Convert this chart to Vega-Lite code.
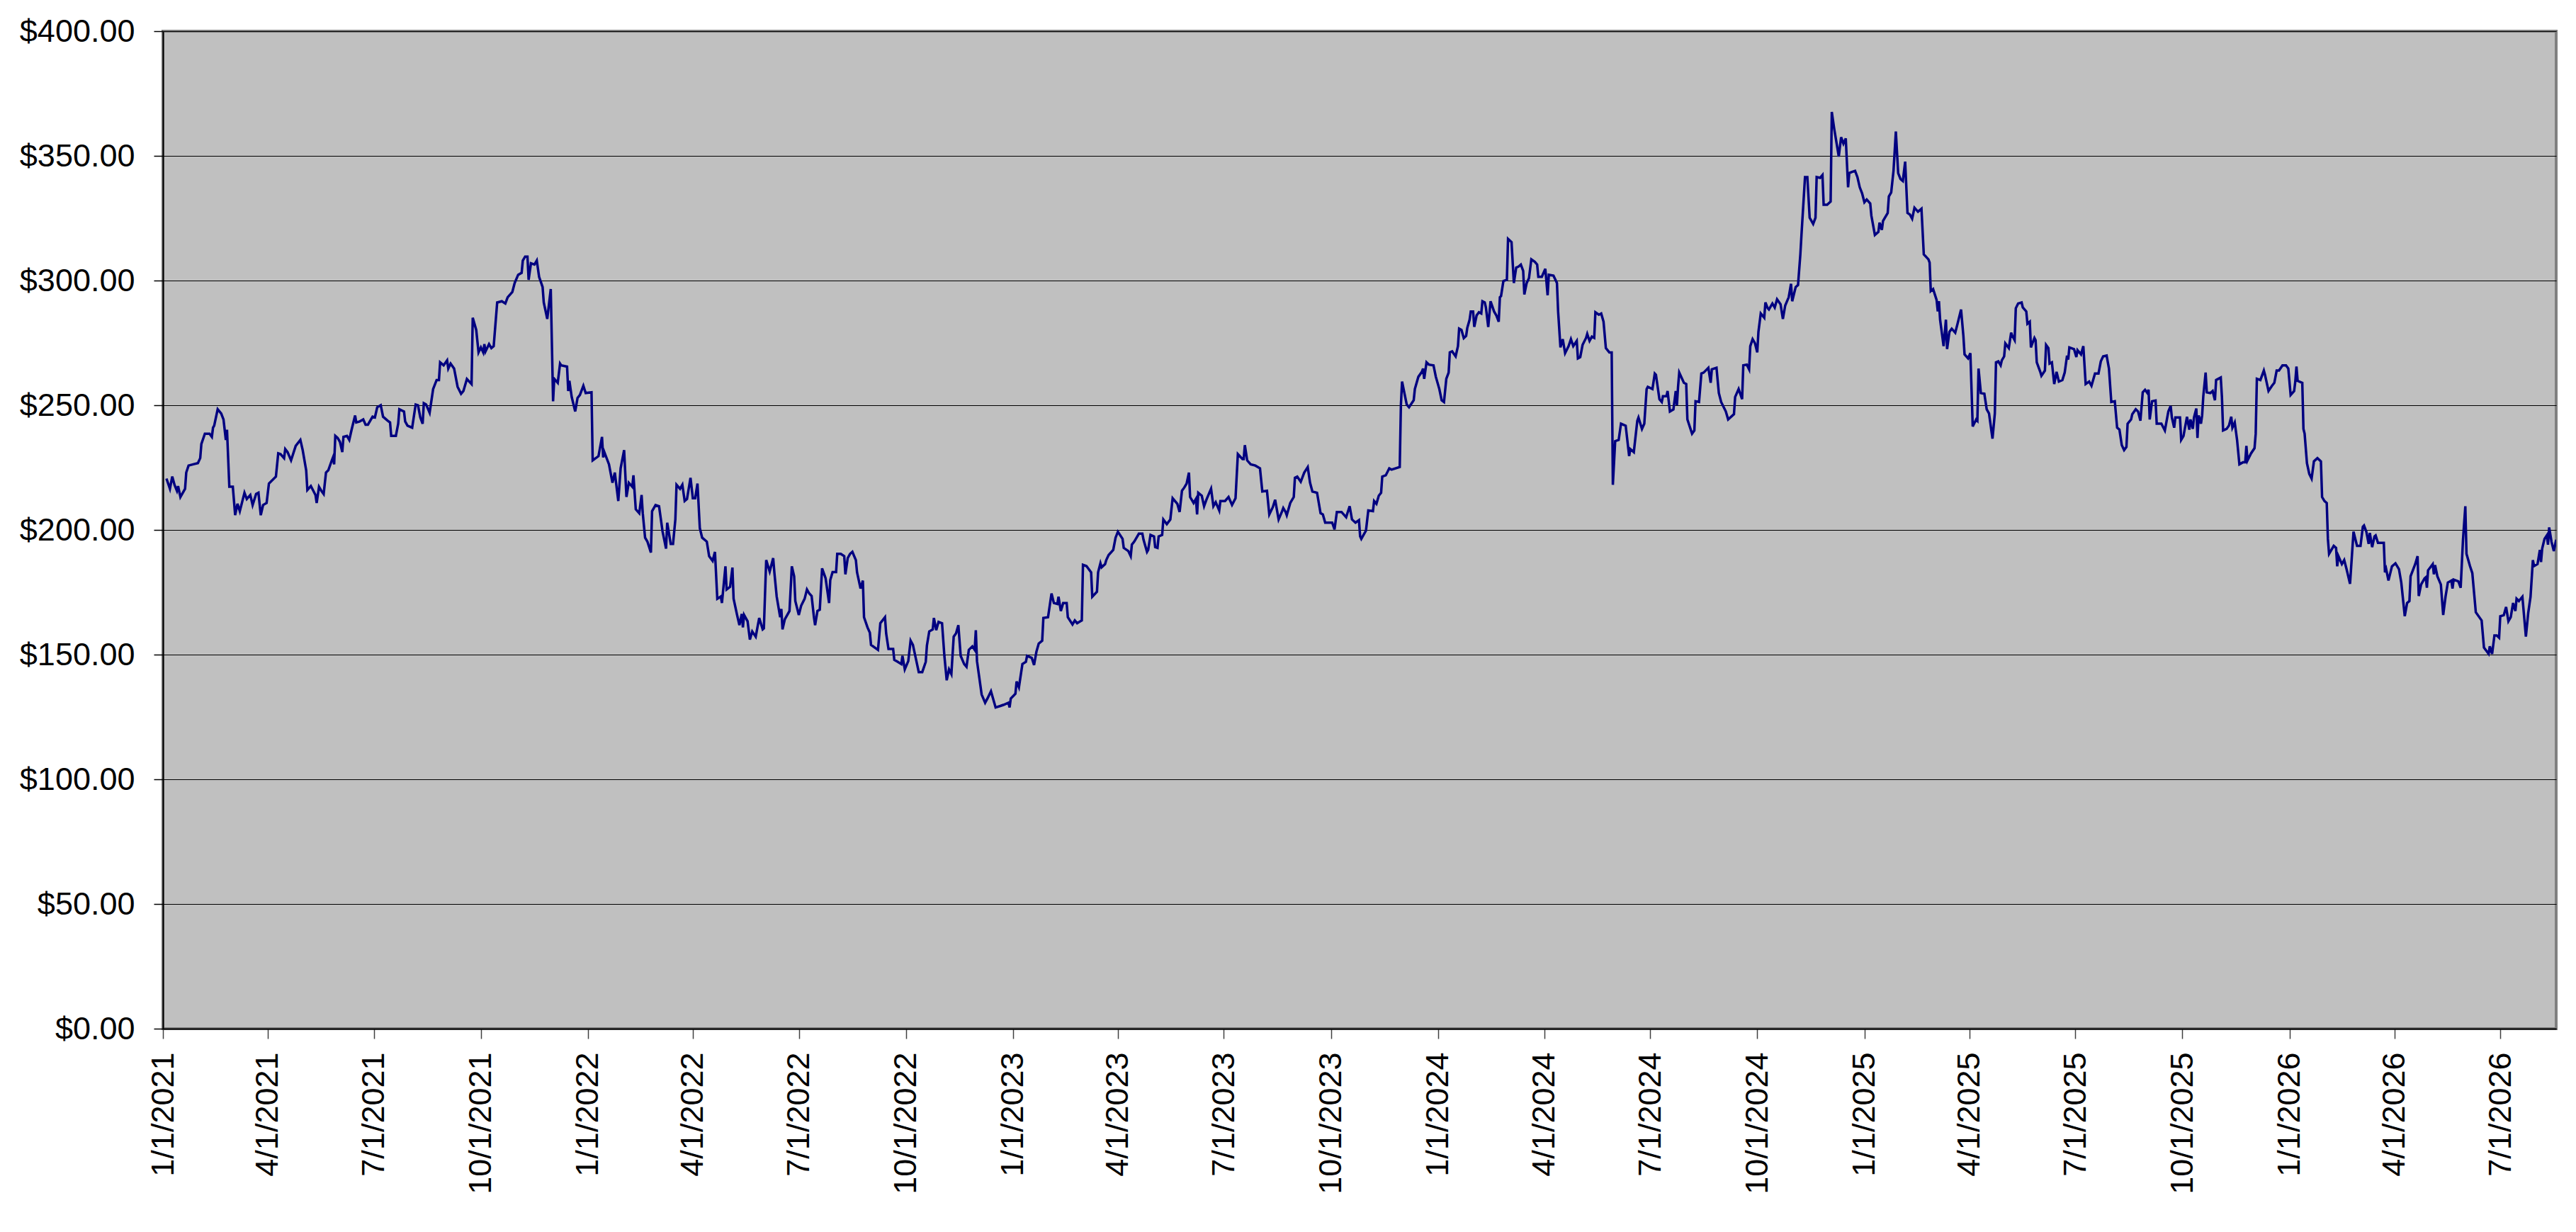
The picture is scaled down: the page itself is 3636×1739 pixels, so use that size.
{
  "$schema": "https://vega.github.io/schema/vega-lite/v6.json",
  "width": 3378,
  "height": 1408,
  "autosize": {"type": "none"},
  "padding": {"left": 230, "top": 44, "right": 28, "bottom": 287},
  "background": "white",
  "config": {
    "view": {"fill": "#C0C0C0", "stroke": "#808080", "strokeWidth": 4},
    "axis": {"labelFont": "Liberation Sans", "labelFontSize": 45, "labelColor": "#000000", "labelLimit": 0}
  },
  "data": {
    "values": [
      {"date": "2021-01-04", "price": 220.6}, {"date": "2021-01-07", "price": 216.5}, {"date": "2021-01-09", "price": 221.4},
      {"date": "2021-01-11", "price": 218}, {"date": "2021-01-13", "price": 215.7}, {"date": "2021-01-14", "price": 217.6},
      {"date": "2021-01-16", "price": 213.2}, {"date": "2021-01-20", "price": 216.5}, {"date": "2021-01-21", "price": 223},
      {"date": "2021-01-23", "price": 225.8}, {"date": "2021-01-27", "price": 226.3}, {"date": "2021-01-31", "price": 226.8},
      {"date": "2021-02-02", "price": 228.8}, {"date": "2021-02-03", "price": 234.5}, {"date": "2021-02-06", "price": 238.6},
      {"date": "2021-02-10", "price": 238.6}, {"date": "2021-02-12", "price": 237.3}, {"date": "2021-02-13", "price": 241},
      {"date": "2021-02-14", "price": 241.8}, {"date": "2021-02-17", "price": 248.4}, {"date": "2021-02-20", "price": 246.7},
      {"date": "2021-02-22", "price": 244.3}, {"date": "2021-02-24", "price": 236.1}, {"date": "2021-02-25", "price": 240.2},
      {"date": "2021-02-27", "price": 217.3}, {"date": "2021-03-02", "price": 217.3}, {"date": "2021-03-04", "price": 205.9},
      {"date": "2021-03-06", "price": 210.5}, {"date": "2021-03-08", "price": 207.5}, {"date": "2021-03-12", "price": 214.9},
      {"date": "2021-03-14", "price": 212.4}, {"date": "2021-03-17", "price": 214}, {"date": "2021-03-19", "price": 210},
      {"date": "2021-03-22", "price": 214.4}, {"date": "2021-03-24", "price": 214.9}, {"date": "2021-03-26", "price": 205.9},
      {"date": "2021-03-28", "price": 210}, {"date": "2021-03-31", "price": 210.8}, {"date": "2021-04-02", "price": 218.6},
      {"date": "2021-04-08", "price": 221.4}, {"date": "2021-04-10", "price": 230.7}, {"date": "2021-04-12", "price": 230.4},
      {"date": "2021-04-15", "price": 228.8}, {"date": "2021-04-16", "price": 232.4}, {"date": "2021-04-18", "price": 231.2},
      {"date": "2021-04-21", "price": 227.9}, {"date": "2021-04-25", "price": 233.7}, {"date": "2021-04-29", "price": 236.1},
      {"date": "2021-05-01", "price": 232}, {"date": "2021-05-04", "price": 223.9}, {"date": "2021-05-05", "price": 216},
      {"date": "2021-05-08", "price": 217.6}, {"date": "2021-05-12", "price": 214}, {"date": "2021-05-13", "price": 210.8},
      {"date": "2021-05-15", "price": 217.3}, {"date": "2021-05-17", "price": 215.7}, {"date": "2021-05-19", "price": 214.4},
      {"date": "2021-05-21", "price": 223}, {"date": "2021-05-23", "price": 223.9}, {"date": "2021-05-26", "price": 227.9},
      {"date": "2021-05-27", "price": 229.1}, {"date": "2021-05-28", "price": 226.3}, {"date": "2021-05-29", "price": 237.7},
      {"date": "2021-05-31", "price": 236.9}, {"date": "2021-06-02", "price": 235.3}, {"date": "2021-06-04", "price": 231.2},
      {"date": "2021-06-05", "price": 237.3}, {"date": "2021-06-08", "price": 237.7}, {"date": "2021-06-10", "price": 236.1},
      {"date": "2021-06-12", "price": 240.2}, {"date": "2021-06-15", "price": 245.9}, {"date": "2021-06-16", "price": 243.1},
      {"date": "2021-06-19", "price": 243.5}, {"date": "2021-06-22", "price": 244.3}, {"date": "2021-06-24", "price": 242.2},
      {"date": "2021-06-26", "price": 242.2}, {"date": "2021-06-30", "price": 245.4}, {"date": "2021-07-02", "price": 245.1},
      {"date": "2021-07-04", "price": 249.2}, {"date": "2021-07-07", "price": 250}, {"date": "2021-07-09", "price": 245.4},
      {"date": "2021-07-13", "price": 243.8}, {"date": "2021-07-15", "price": 243.1}, {"date": "2021-07-16", "price": 237.7},
      {"date": "2021-07-20", "price": 237.7}, {"date": "2021-07-22", "price": 242.6}, {"date": "2021-07-23", "price": 248.4},
      {"date": "2021-07-27", "price": 247.5}, {"date": "2021-07-28", "price": 243.5}, {"date": "2021-07-30", "price": 241.8},
      {"date": "2021-08-03", "price": 241}, {"date": "2021-08-06", "price": 250.3}, {"date": "2021-08-08", "price": 250},
      {"date": "2021-08-10", "price": 245.1}, {"date": "2021-08-12", "price": 242.6}, {"date": "2021-08-13", "price": 250.8},
      {"date": "2021-08-15", "price": 250.3}, {"date": "2021-08-18", "price": 247}, {"date": "2021-08-21", "price": 256.5},
      {"date": "2021-08-24", "price": 260.1}, {"date": "2021-08-26", "price": 260.1}, {"date": "2021-08-27", "price": 267.2},
      {"date": "2021-08-30", "price": 266}, {"date": "2021-09-02", "price": 268}, {"date": "2021-09-03", "price": 264.7},
      {"date": "2021-09-05", "price": 266.7}, {"date": "2021-09-08", "price": 264.7}, {"date": "2021-09-11", "price": 257.4},
      {"date": "2021-09-14", "price": 254.6}, {"date": "2021-09-16", "price": 255.7}, {"date": "2021-09-19", "price": 260.5},
      {"date": "2021-09-23", "price": 258.5}, {"date": "2021-09-24", "price": 285.1}, {"date": "2021-09-27", "price": 280.2},
      {"date": "2021-09-29", "price": 271.2}, {"date": "2021-10-01", "price": 273.2}, {"date": "2021-10-03", "price": 271.2},
      {"date": "2021-10-04", "price": 274.5}, {"date": "2021-10-05", "price": 271.6}, {"date": "2021-10-08", "price": 274.5},
      {"date": "2021-10-10", "price": 272.9}, {"date": "2021-10-12", "price": 273.7}, {"date": "2021-10-15", "price": 291.2},
      {"date": "2021-10-19", "price": 291.7}, {"date": "2021-10-22", "price": 290.8}, {"date": "2021-10-24", "price": 293.3},
      {"date": "2021-10-28", "price": 295.4}, {"date": "2021-10-30", "price": 299}, {"date": "2021-11-02", "price": 302.3},
      {"date": "2021-11-05", "price": 303.1}, {"date": "2021-11-06", "price": 308}, {"date": "2021-11-08", "price": 309.6},
      {"date": "2021-11-10", "price": 309.6}, {"date": "2021-11-11", "price": 300.3}, {"date": "2021-11-13", "price": 306.9},
      {"date": "2021-11-16", "price": 306.4}, {"date": "2021-11-18", "price": 308}, {"date": "2021-11-20", "price": 301.5},
      {"date": "2021-11-23", "price": 297.4}, {"date": "2021-11-24", "price": 291.2}, {"date": "2021-11-27", "price": 284.6},
      {"date": "2021-11-30", "price": 296.6}, {"date": "2021-12-02", "price": 251.6}, {"date": "2021-12-03", "price": 260.6},
      {"date": "2021-12-06", "price": 259}, {"date": "2021-12-08", "price": 266.7}, {"date": "2021-12-09", "price": 266},
      {"date": "2021-12-14", "price": 265.5}, {"date": "2021-12-15", "price": 255.7}, {"date": "2021-12-16", "price": 259.8},
      {"date": "2021-12-18", "price": 253.3}, {"date": "2021-12-21", "price": 247.5}, {"date": "2021-12-23", "price": 252.9},
      {"date": "2021-12-25", "price": 254.1}, {"date": "2021-12-28", "price": 257.8}, {"date": "2021-12-30", "price": 254.9},
      {"date": "2022-01-04", "price": 255.2}, {"date": "2022-01-05", "price": 227.9}, {"date": "2022-01-10", "price": 229.6},
      {"date": "2022-01-13", "price": 237.3}, {"date": "2022-01-14", "price": 229.1}, {"date": "2022-01-15", "price": 231.2},
      {"date": "2022-01-19", "price": 226.3}, {"date": "2022-01-22", "price": 218.9}, {"date": "2022-01-24", "price": 223},
      {"date": "2022-01-27", "price": 211.6}, {"date": "2022-01-29", "price": 224.7}, {"date": "2022-02-01", "price": 232},
      {"date": "2022-02-03", "price": 213.2}, {"date": "2022-02-05", "price": 218.9}, {"date": "2022-02-08", "price": 217.3},
      {"date": "2022-02-09", "price": 221.9}, {"date": "2022-02-11", "price": 208.3}, {"date": "2022-02-14", "price": 206.7},
      {"date": "2022-02-16", "price": 214}, {"date": "2022-02-17", "price": 206.7}, {"date": "2022-02-19", "price": 196.9},
      {"date": "2022-02-21", "price": 195.3}, {"date": "2022-02-24", "price": 190.9}, {"date": "2022-02-25", "price": 207.5},
      {"date": "2022-02-28", "price": 210}, {"date": "2022-03-03", "price": 209.5}, {"date": "2022-03-06", "price": 199.4},
      {"date": "2022-03-09", "price": 192.5}, {"date": "2022-03-10", "price": 202.9}, {"date": "2022-03-13", "price": 194.4},
      {"date": "2022-03-15", "price": 194.4}, {"date": "2022-03-17", "price": 204.2}, {"date": "2022-03-18", "price": 218.1},
      {"date": "2022-03-21", "price": 216.5}, {"date": "2022-03-23", "price": 218.1}, {"date": "2022-03-25", "price": 211.6},
      {"date": "2022-03-27", "price": 212.4}, {"date": "2022-03-30", "price": 220.9}, {"date": "2022-04-01", "price": 212.7},
      {"date": "2022-04-03", "price": 212.7}, {"date": "2022-04-05", "price": 218.6}, {"date": "2022-04-07", "price": 200.7},
      {"date": "2022-04-09", "price": 196.9}, {"date": "2022-04-13", "price": 195.3}, {"date": "2022-04-15", "price": 189.5},
      {"date": "2022-04-18", "price": 187.6}, {"date": "2022-04-20", "price": 191.2}, {"date": "2022-04-22", "price": 172.4},
      {"date": "2022-04-25", "price": 173.3}, {"date": "2022-04-26", "price": 170.7}, {"date": "2022-04-29", "price": 185.4},
      {"date": "2022-04-30", "price": 176.1}, {"date": "2022-05-03", "price": 177.2}, {"date": "2022-05-05", "price": 184.9},
      {"date": "2022-05-06", "price": 172.4}, {"date": "2022-05-09", "price": 165.9}, {"date": "2022-05-11", "price": 161.8},
      {"date": "2022-05-13", "price": 166.3}, {"date": "2022-05-14", "price": 160.9}, {"date": "2022-05-15", "price": 165.9},
      {"date": "2022-05-18", "price": 163.4}, {"date": "2022-05-20", "price": 156}, {"date": "2022-05-22", "price": 159.3},
      {"date": "2022-05-25", "price": 157.2}, {"date": "2022-05-28", "price": 164.7}, {"date": "2022-05-31", "price": 160.1},
      {"date": "2022-06-01", "price": 160.5}, {"date": "2022-06-03", "price": 187.9}, {"date": "2022-06-06", "price": 183.3},
      {"date": "2022-06-09", "price": 188.7}, {"date": "2022-06-10", "price": 183}, {"date": "2022-06-12", "price": 173.3},
      {"date": "2022-06-15", "price": 165}, {"date": "2022-06-16", "price": 168.3}, {"date": "2022-06-17", "price": 160.1},
      {"date": "2022-06-19", "price": 164.2}, {"date": "2022-06-23", "price": 167.5}, {"date": "2022-06-25", "price": 185.4},
      {"date": "2022-06-27", "price": 181.4}, {"date": "2022-06-28", "price": 171.5}, {"date": "2022-07-01", "price": 165.9},
      {"date": "2022-07-03", "price": 169.6}, {"date": "2022-07-06", "price": 172.4}, {"date": "2022-07-08", "price": 176.1},
      {"date": "2022-07-10", "price": 174.5}, {"date": "2022-07-12", "price": 173.5}, {"date": "2022-07-14", "price": 165},
      {"date": "2022-07-15", "price": 161.8}, {"date": "2022-07-17", "price": 167.5}, {"date": "2022-07-19", "price": 168},
      {"date": "2022-07-21", "price": 184.6}, {"date": "2022-07-24", "price": 180.6}, {"date": "2022-07-27", "price": 170.7},
      {"date": "2022-07-28", "price": 179.9}, {"date": "2022-07-30", "price": 183.1}, {"date": "2022-08-02", "price": 183.1},
      {"date": "2022-08-03", "price": 190.4}, {"date": "2022-08-06", "price": 190.4}, {"date": "2022-08-09", "price": 189.5},
      {"date": "2022-08-10", "price": 182.2}, {"date": "2022-08-12", "price": 188.7}, {"date": "2022-08-14", "price": 190.4},
      {"date": "2022-08-16", "price": 191.2}, {"date": "2022-08-19", "price": 187.9}, {"date": "2022-08-20", "price": 183},
      {"date": "2022-08-23", "price": 176.5}, {"date": "2022-08-25", "price": 179.7}, {"date": "2022-08-26", "price": 165},
      {"date": "2022-08-29", "price": 160.9}, {"date": "2022-08-31", "price": 158.8}, {"date": "2022-09-01", "price": 153.9},
      {"date": "2022-09-07", "price": 151.9}, {"date": "2022-09-09", "price": 162.6}, {"date": "2022-09-13", "price": 165},
      {"date": "2022-09-14", "price": 158.5}, {"date": "2022-09-16", "price": 152.3}, {"date": "2022-09-20", "price": 152.3},
      {"date": "2022-09-21", "price": 147.9}, {"date": "2022-09-24", "price": 147.1}, {"date": "2022-09-27", "price": 146.2},
      {"date": "2022-09-28", "price": 149.5}, {"date": "2022-09-30", "price": 144.1}, {"date": "2022-10-03", "price": 147.4},
      {"date": "2022-10-05", "price": 155.6}, {"date": "2022-10-07", "price": 153.9}, {"date": "2022-10-09", "price": 149.5},
      {"date": "2022-10-12", "price": 143}, {"date": "2022-10-15", "price": 143}, {"date": "2022-10-18", "price": 147.1},
      {"date": "2022-10-19", "price": 153.6}, {"date": "2022-10-21", "price": 159.3}, {"date": "2022-10-24", "price": 160.1},
      {"date": "2022-10-25", "price": 164.7}, {"date": "2022-10-27", "price": 159.8}, {"date": "2022-10-29", "price": 163.1},
      {"date": "2022-11-01", "price": 162.6}, {"date": "2022-11-03", "price": 149.5}, {"date": "2022-11-05", "price": 139.7},
      {"date": "2022-11-07", "price": 144.1}, {"date": "2022-11-09", "price": 142.2}, {"date": "2022-11-11", "price": 157.2},
      {"date": "2022-11-13", "price": 158.5}, {"date": "2022-11-15", "price": 161.8}, {"date": "2022-11-17", "price": 149.5},
      {"date": "2022-11-20", "price": 146.2}, {"date": "2022-11-22", "price": 145.1}, {"date": "2022-11-24", "price": 151.9},
      {"date": "2022-11-27", "price": 153.3}, {"date": "2022-11-29", "price": 151.9}, {"date": "2022-11-30", "price": 159.8},
      {"date": "2022-12-01", "price": 147.4}, {"date": "2022-12-05", "price": 134}, {"date": "2022-12-08", "price": 130.7},
      {"date": "2022-12-10", "price": 132.4}, {"date": "2022-12-13", "price": 135.3}, {"date": "2022-12-17", "price": 128.8},
      {"date": "2022-12-21", "price": 129.4}, {"date": "2022-12-24", "price": 129.9}, {"date": "2022-12-28", "price": 130.7},
      {"date": "2022-12-29", "price": 128.8}, {"date": "2022-12-30", "price": 132.4}, {"date": "2023-01-03", "price": 134.3},
      {"date": "2023-01-04", "price": 139.2}, {"date": "2023-01-06", "price": 136.9}, {"date": "2023-01-09", "price": 146.2},
      {"date": "2023-01-12", "price": 147.1}, {"date": "2023-01-13", "price": 149.5}, {"date": "2023-01-17", "price": 148.7},
      {"date": "2023-01-19", "price": 145.8}, {"date": "2023-01-21", "price": 151.1}, {"date": "2023-01-23", "price": 154.4},
      {"date": "2023-01-26", "price": 155.6}, {"date": "2023-01-27", "price": 164.7}, {"date": "2023-01-31", "price": 165},
      {"date": "2023-02-03", "price": 174.5}, {"date": "2023-02-05", "price": 170.7}, {"date": "2023-02-08", "price": 170.3},
      {"date": "2023-02-09", "price": 173.2}, {"date": "2023-02-11", "price": 167.5}, {"date": "2023-02-13", "price": 170.7},
      {"date": "2023-02-16", "price": 170.7}, {"date": "2023-02-17", "price": 165}, {"date": "2023-02-21", "price": 162.1},
      {"date": "2023-02-23", "price": 163.7}, {"date": "2023-02-25", "price": 162.6}, {"date": "2023-03-01", "price": 163.7},
      {"date": "2023-03-02", "price": 186}, {"date": "2023-03-05", "price": 185.5}, {"date": "2023-03-09", "price": 183},
      {"date": "2023-03-10", "price": 173.2}, {"date": "2023-03-14", "price": 175.2}, {"date": "2023-03-15", "price": 183},
      {"date": "2023-03-17", "price": 186.6}, {"date": "2023-03-18", "price": 185}, {"date": "2023-03-21", "price": 186.3},
      {"date": "2023-03-22", "price": 187.9}, {"date": "2023-03-24", "price": 189.9}, {"date": "2023-03-28", "price": 192},
      {"date": "2023-03-30", "price": 196.9}, {"date": "2023-04-01", "price": 199.3}, {"date": "2023-04-05", "price": 196.4},
      {"date": "2023-04-06", "price": 192.8}, {"date": "2023-04-10", "price": 191.5}, {"date": "2023-04-12", "price": 189.5},
      {"date": "2023-04-13", "price": 194.1}, {"date": "2023-04-15", "price": 195.3}, {"date": "2023-04-19", "price": 198.5},
      {"date": "2023-04-22", "price": 198.5}, {"date": "2023-04-23", "price": 196.1}, {"date": "2023-04-26", "price": 191.2},
      {"date": "2023-04-27", "price": 192}, {"date": "2023-04-29", "price": 198}, {"date": "2023-05-02", "price": 197.4},
      {"date": "2023-05-03", "price": 193.1}, {"date": "2023-05-05", "price": 192.8}, {"date": "2023-05-06", "price": 197.4},
      {"date": "2023-05-09", "price": 198}, {"date": "2023-05-10", "price": 204.2}, {"date": "2023-05-13", "price": 202.3},
      {"date": "2023-05-16", "price": 204.2}, {"date": "2023-05-18", "price": 212.7}, {"date": "2023-05-22", "price": 210.5},
      {"date": "2023-05-24", "price": 207.2}, {"date": "2023-05-26", "price": 215.7}, {"date": "2023-05-28", "price": 217},
      {"date": "2023-05-30", "price": 218.6}, {"date": "2023-06-01", "price": 223}, {"date": "2023-06-02", "price": 213.2},
      {"date": "2023-06-05", "price": 210.8}, {"date": "2023-06-07", "price": 212.4}, {"date": "2023-06-08", "price": 206.2},
      {"date": "2023-06-09", "price": 214.9}, {"date": "2023-06-12", "price": 213.7}, {"date": "2023-06-14", "price": 209.5},
      {"date": "2023-06-16", "price": 212.1}, {"date": "2023-06-20", "price": 216.5}, {"date": "2023-06-22", "price": 209.5},
      {"date": "2023-06-24", "price": 211.1}, {"date": "2023-06-27", "price": 207.8}, {"date": "2023-06-28", "price": 211.6},
      {"date": "2023-07-02", "price": 211.6}, {"date": "2023-07-05", "price": 213.2}, {"date": "2023-07-08", "price": 210},
      {"date": "2023-07-11", "price": 212.7}, {"date": "2023-07-13", "price": 230.4}, {"date": "2023-07-17", "price": 228.4},
      {"date": "2023-07-18", "price": 228.4}, {"date": "2023-07-19", "price": 234}, {"date": "2023-07-21", "price": 227.9},
      {"date": "2023-07-24", "price": 226.3}, {"date": "2023-07-28", "price": 225.8}, {"date": "2023-08-01", "price": 224.7},
      {"date": "2023-08-03", "price": 215.4}, {"date": "2023-08-07", "price": 215.7}, {"date": "2023-08-09", "price": 206.2},
      {"date": "2023-08-12", "price": 209.1}, {"date": "2023-08-14", "price": 212.1}, {"date": "2023-08-17", "price": 204.2},
      {"date": "2023-08-20", "price": 207.5}, {"date": "2023-08-21", "price": 208.8}, {"date": "2023-08-23", "price": 207.2},
      {"date": "2023-08-24", "price": 205.9}, {"date": "2023-08-27", "price": 210.8}, {"date": "2023-08-30", "price": 213.2},
      {"date": "2023-08-31", "price": 220.9}, {"date": "2023-09-02", "price": 221.4}, {"date": "2023-09-05", "price": 219.3},
      {"date": "2023-09-08", "price": 223}, {"date": "2023-09-11", "price": 225.2}, {"date": "2023-09-13", "price": 218.9},
      {"date": "2023-09-15", "price": 215.4}, {"date": "2023-09-19", "price": 214.9}, {"date": "2023-09-22", "price": 206.7},
      {"date": "2023-09-24", "price": 206.2}, {"date": "2023-09-26", "price": 202.9}, {"date": "2023-10-02", "price": 202.9},
      {"date": "2023-10-04", "price": 200.2}, {"date": "2023-10-06", "price": 207.2}, {"date": "2023-10-10", "price": 207.2},
      {"date": "2023-10-14", "price": 205.1}, {"date": "2023-10-17", "price": 209.5}, {"date": "2023-10-19", "price": 204.2},
      {"date": "2023-10-22", "price": 202.9}, {"date": "2023-10-25", "price": 203.9}, {"date": "2023-10-26", "price": 197.4},
      {"date": "2023-10-27", "price": 196.4}, {"date": "2023-10-31", "price": 199.7}, {"date": "2023-11-02", "price": 207.8},
      {"date": "2023-11-06", "price": 207.5}, {"date": "2023-11-07", "price": 211.6}, {"date": "2023-11-09", "price": 210.5},
      {"date": "2023-11-11", "price": 213.7}, {"date": "2023-11-13", "price": 214.9}, {"date": "2023-11-14", "price": 221.4},
      {"date": "2023-11-17", "price": 221.9}, {"date": "2023-11-20", "price": 224.7}, {"date": "2023-11-22", "price": 224.2},
      {"date": "2023-11-29", "price": 225.2}, {"date": "2023-11-30", "price": 250}, {"date": "2023-12-01", "price": 259.5},
      {"date": "2023-12-05", "price": 250.3}, {"date": "2023-12-07", "price": 249.2}, {"date": "2023-12-11", "price": 252},
      {"date": "2023-12-12", "price": 256.5}, {"date": "2023-12-14", "price": 259.8}, {"date": "2023-12-15", "price": 261.4},
      {"date": "2023-12-18", "price": 263.4}, {"date": "2023-12-19", "price": 264.7}, {"date": "2023-12-20", "price": 260.6},
      {"date": "2023-12-22", "price": 267.2}, {"date": "2023-12-24", "price": 266.3}, {"date": "2023-12-28", "price": 266},
      {"date": "2023-12-30", "price": 261.4}, {"date": "2024-01-02", "price": 256.5}, {"date": "2024-01-04", "price": 252},
      {"date": "2024-01-06", "price": 251.3}, {"date": "2024-01-08", "price": 260.6}, {"date": "2024-01-10", "price": 263.1},
      {"date": "2024-01-11", "price": 271.2}, {"date": "2024-01-13", "price": 271.6}, {"date": "2024-01-16", "price": 269.6},
      {"date": "2024-01-18", "price": 273.7}, {"date": "2024-01-19", "price": 280.7}, {"date": "2024-01-21", "price": 280.2},
      {"date": "2024-01-23", "price": 276.9}, {"date": "2024-01-25", "price": 277.8}, {"date": "2024-01-26", "price": 281},
      {"date": "2024-01-28", "price": 284.3}, {"date": "2024-01-29", "price": 287.6}, {"date": "2024-01-31", "price": 287.6},
      {"date": "2024-02-01", "price": 281.4}, {"date": "2024-02-03", "price": 286}, {"date": "2024-02-05", "price": 287.3},
      {"date": "2024-02-07", "price": 286.8}, {"date": "2024-02-08", "price": 291.7}, {"date": "2024-02-10", "price": 291.2},
      {"date": "2024-02-11", "price": 289.2}, {"date": "2024-02-13", "price": 281.4}, {"date": "2024-02-15", "price": 291.7},
      {"date": "2024-02-18", "price": 287.6}, {"date": "2024-02-20", "price": 286}, {"date": "2024-02-22", "price": 283.5},
      {"date": "2024-02-23", "price": 293.3}, {"date": "2024-02-24", "price": 293.8}, {"date": "2024-02-26", "price": 299.8},
      {"date": "2024-02-29", "price": 300.3}, {"date": "2024-03-01", "price": 316.7}, {"date": "2024-03-04", "price": 315.4},
      {"date": "2024-03-06", "price": 299}, {"date": "2024-03-08", "price": 305.2}, {"date": "2024-03-10", "price": 305.6},
      {"date": "2024-03-12", "price": 306.4}, {"date": "2024-03-14", "price": 303.9}, {"date": "2024-03-15", "price": 294.4},
      {"date": "2024-03-17", "price": 299}, {"date": "2024-03-19", "price": 301}, {"date": "2024-03-21", "price": 308.5},
      {"date": "2024-03-24", "price": 307.5}, {"date": "2024-03-26", "price": 306.4}, {"date": "2024-03-27", "price": 301.5},
      {"date": "2024-03-30", "price": 301.5}, {"date": "2024-04-02", "price": 304.7}, {"date": "2024-04-04", "price": 294.1},
      {"date": "2024-04-05", "price": 302.3}, {"date": "2024-04-09", "price": 302}, {"date": "2024-04-12", "price": 299},
      {"date": "2024-04-13", "price": 287.6}, {"date": "2024-04-15", "price": 273.2}, {"date": "2024-04-17", "price": 276.5},
      {"date": "2024-04-19", "price": 270.9}, {"date": "2024-04-22", "price": 273.7}, {"date": "2024-04-24", "price": 276.5},
      {"date": "2024-04-26", "price": 273.7}, {"date": "2024-04-29", "price": 275.8}, {"date": "2024-04-30", "price": 268.8},
      {"date": "2024-05-02", "price": 269.3}, {"date": "2024-05-04", "price": 274.2}, {"date": "2024-05-07", "price": 277},
      {"date": "2024-05-08", "price": 278.6}, {"date": "2024-05-10", "price": 275.8}, {"date": "2024-05-12", "price": 277.5},
      {"date": "2024-05-14", "price": 277}, {"date": "2024-05-15", "price": 287.3}, {"date": "2024-05-18", "price": 286.3},
      {"date": "2024-05-20", "price": 286.8}, {"date": "2024-05-22", "price": 283.5}, {"date": "2024-05-24", "price": 272.9},
      {"date": "2024-05-27", "price": 271.2}, {"date": "2024-05-29", "price": 271.2}, {"date": "2024-05-30", "price": 218.1},
      {"date": "2024-06-01", "price": 235.6}, {"date": "2024-06-04", "price": 236.1}, {"date": "2024-06-06", "price": 242.6},
      {"date": "2024-06-10", "price": 241.8}, {"date": "2024-06-13", "price": 229.6}, {"date": "2024-06-14", "price": 232.4},
      {"date": "2024-06-17", "price": 231.2}, {"date": "2024-06-20", "price": 243.8}, {"date": "2024-06-21", "price": 245.1},
      {"date": "2024-06-24", "price": 240.5}, {"date": "2024-06-26", "price": 242.6}, {"date": "2024-06-28", "price": 256.5},
      {"date": "2024-06-29", "price": 257.4}, {"date": "2024-07-03", "price": 256.5}, {"date": "2024-07-05", "price": 262.7},
      {"date": "2024-07-06", "price": 262.2}, {"date": "2024-07-09", "price": 252.4}, {"date": "2024-07-11", "price": 251.3},
      {"date": "2024-07-12", "price": 253.6}, {"date": "2024-07-15", "price": 253.6}, {"date": "2024-07-16", "price": 255.7},
      {"date": "2024-07-18", "price": 247.5}, {"date": "2024-07-21", "price": 248.3}, {"date": "2024-07-23", "price": 255.7},
      {"date": "2024-07-24", "price": 250}, {"date": "2024-07-25", "price": 257.4}, {"date": "2024-07-26", "price": 263.1},
      {"date": "2024-07-30", "price": 259}, {"date": "2024-08-01", "price": 258.5}, {"date": "2024-08-02", "price": 244.3},
      {"date": "2024-08-06", "price": 238.6}, {"date": "2024-08-08", "price": 239.9}, {"date": "2024-08-09", "price": 251.6},
      {"date": "2024-08-12", "price": 251.3}, {"date": "2024-08-14", "price": 262.7}, {"date": "2024-08-16", "price": 263.1},
      {"date": "2024-08-20", "price": 265}, {"date": "2024-08-22", "price": 259}, {"date": "2024-08-23", "price": 264.4},
      {"date": "2024-08-27", "price": 265}, {"date": "2024-08-29", "price": 254.9}, {"date": "2024-08-31", "price": 251.3},
      {"date": "2024-09-04", "price": 247.5}, {"date": "2024-09-06", "price": 244.3}, {"date": "2024-09-11", "price": 246.4},
      {"date": "2024-09-12", "price": 253.3}, {"date": "2024-09-15", "price": 256.5}, {"date": "2024-09-18", "price": 252.4},
      {"date": "2024-09-19", "price": 266}, {"date": "2024-09-22", "price": 266.3}, {"date": "2024-09-24", "price": 264.4},
      {"date": "2024-09-25", "price": 273.7}, {"date": "2024-09-27", "price": 276.5}, {"date": "2024-09-29", "price": 274.9},
      {"date": "2024-10-01", "price": 271.2}, {"date": "2024-10-02", "price": 279.4}, {"date": "2024-10-04", "price": 286.8},
      {"date": "2024-10-07", "price": 285.1}, {"date": "2024-10-08", "price": 291.2}, {"date": "2024-10-10", "price": 288.9},
      {"date": "2024-10-11", "price": 288.4}, {"date": "2024-10-14", "price": 290.8}, {"date": "2024-10-16", "price": 289.2},
      {"date": "2024-10-18", "price": 292.5}, {"date": "2024-10-21", "price": 290.5}, {"date": "2024-10-23", "price": 284.6},
      {"date": "2024-10-25", "price": 290}, {"date": "2024-10-28", "price": 293.3}, {"date": "2024-10-30", "price": 298.7},
      {"date": "2024-10-31", "price": 291.7}, {"date": "2024-11-03", "price": 297.4}, {"date": "2024-11-05", "price": 298.2},
      {"date": "2024-11-07", "price": 310.5}, {"date": "2024-11-08", "price": 318.6}, {"date": "2024-11-11", "price": 341.5},
      {"date": "2024-11-13", "price": 341.5}, {"date": "2024-11-15", "price": 325.2}, {"date": "2024-11-18", "price": 322.7},
      {"date": "2024-11-20", "price": 325.2}, {"date": "2024-11-21", "price": 341.5}, {"date": "2024-11-24", "price": 341.2},
      {"date": "2024-11-26", "price": 342.3}, {"date": "2024-11-27", "price": 330.4}, {"date": "2024-11-30", "price": 330.4},
      {"date": "2024-12-03", "price": 331.7}, {"date": "2024-12-04", "price": 367.6}, {"date": "2024-12-06", "price": 361.1},
      {"date": "2024-12-08", "price": 355.4}, {"date": "2024-12-10", "price": 349.7}, {"date": "2024-12-12", "price": 357.5},
      {"date": "2024-12-14", "price": 354.9}, {"date": "2024-12-16", "price": 357}, {"date": "2024-12-18", "price": 337.4},
      {"date": "2024-12-19", "price": 343.1}, {"date": "2024-12-21", "price": 343.5}, {"date": "2024-12-24", "price": 344},
      {"date": "2024-12-26", "price": 341.5}, {"date": "2024-12-28", "price": 337.4}, {"date": "2024-12-30", "price": 335},
      {"date": "2025-01-01", "price": 331.4}, {"date": "2025-01-03", "price": 332.5}, {"date": "2025-01-06", "price": 330.9},
      {"date": "2025-01-07", "price": 326}, {"date": "2025-01-10", "price": 318.3}, {"date": "2025-01-13", "price": 319.5},
      {"date": "2025-01-14", "price": 323.2}, {"date": "2025-01-16", "price": 320.3}, {"date": "2025-01-17", "price": 323.9},
      {"date": "2025-01-21", "price": 327.1}, {"date": "2025-01-22", "price": 333.7}, {"date": "2025-01-24", "price": 335.3},
      {"date": "2025-01-26", "price": 344}, {"date": "2025-01-28", "price": 359.8}, {"date": "2025-01-30", "price": 343.1},
      {"date": "2025-02-01", "price": 340.7}, {"date": "2025-02-03", "price": 339.9}, {"date": "2025-02-05", "price": 347.7},
      {"date": "2025-02-07", "price": 327.1}, {"date": "2025-02-09", "price": 326.5}, {"date": "2025-02-11", "price": 324.8},
      {"date": "2025-02-13", "price": 329.2}, {"date": "2025-02-16", "price": 327.6}, {"date": "2025-02-19", "price": 328.8},
      {"date": "2025-02-21", "price": 310.5}, {"date": "2025-02-25", "price": 308.5}, {"date": "2025-02-26", "price": 307.2},
      {"date": "2025-02-27", "price": 295.8}, {"date": "2025-03-01", "price": 296.6}, {"date": "2025-03-04", "price": 292.2},
      {"date": "2025-03-05", "price": 287.6}, {"date": "2025-03-06", "price": 291.7}, {"date": "2025-03-07", "price": 284.3},
      {"date": "2025-03-10", "price": 273.7}, {"date": "2025-03-12", "price": 284.3}, {"date": "2025-03-13", "price": 272.5},
      {"date": "2025-03-15", "price": 279.4}, {"date": "2025-03-17", "price": 280.7}, {"date": "2025-03-20", "price": 279.1},
      {"date": "2025-03-22", "price": 282.7}, {"date": "2025-03-25", "price": 288.4}, {"date": "2025-03-27", "price": 277.8},
      {"date": "2025-03-28", "price": 270.4}, {"date": "2025-03-31", "price": 268.8}, {"date": "2025-04-02", "price": 270.9},
      {"date": "2025-04-04", "price": 241.5}, {"date": "2025-04-07", "price": 244.3}, {"date": "2025-04-08", "price": 243.8},
      {"date": "2025-04-09", "price": 264.7}, {"date": "2025-04-11", "price": 254.9}, {"date": "2025-04-14", "price": 254.6},
      {"date": "2025-04-16", "price": 248.4}, {"date": "2025-04-18", "price": 246.7}, {"date": "2025-04-21", "price": 236.6},
      {"date": "2025-04-23", "price": 246.7}, {"date": "2025-04-24", "price": 267.2}, {"date": "2025-04-26", "price": 267.6},
      {"date": "2025-04-28", "price": 266}, {"date": "2025-04-29", "price": 268}, {"date": "2025-05-01", "price": 269.6},
      {"date": "2025-05-02", "price": 274.8}, {"date": "2025-05-05", "price": 272.9}, {"date": "2025-05-07", "price": 279.1},
      {"date": "2025-05-08", "price": 277.8}, {"date": "2025-05-10", "price": 276.1}, {"date": "2025-05-11", "price": 288.9},
      {"date": "2025-05-13", "price": 290.8}, {"date": "2025-05-16", "price": 291.2}, {"date": "2025-05-17", "price": 289.2},
      {"date": "2025-05-20", "price": 287.6}, {"date": "2025-05-21", "price": 282.7}, {"date": "2025-05-23", "price": 283.5},
      {"date": "2025-05-24", "price": 273.2}, {"date": "2025-05-25", "price": 274.5}, {"date": "2025-05-27", "price": 277},
      {"date": "2025-05-28", "price": 276.1}, {"date": "2025-05-29", "price": 267.2}, {"date": "2025-06-01", "price": 263.4},
      {"date": "2025-06-02", "price": 261.8}, {"date": "2025-06-05", "price": 263.9}, {"date": "2025-06-06", "price": 274.2},
      {"date": "2025-06-08", "price": 272.9}, {"date": "2025-06-09", "price": 266.7}, {"date": "2025-06-11", "price": 267.2},
      {"date": "2025-06-13", "price": 258.5}, {"date": "2025-06-15", "price": 263.4}, {"date": "2025-06-17", "price": 259.5},
      {"date": "2025-06-20", "price": 260.1}, {"date": "2025-06-22", "price": 263.1}, {"date": "2025-06-24", "price": 269.9},
      {"date": "2025-06-25", "price": 268.3}, {"date": "2025-06-26", "price": 273.2}, {"date": "2025-06-30", "price": 272.5},
      {"date": "2025-07-02", "price": 269.3}, {"date": "2025-07-03", "price": 272.1}, {"date": "2025-07-06", "price": 270.4},
      {"date": "2025-07-08", "price": 273.7}, {"date": "2025-07-10", "price": 258.5}, {"date": "2025-07-13", "price": 259.5},
      {"date": "2025-07-15", "price": 257.8}, {"date": "2025-07-18", "price": 262.7}, {"date": "2025-07-21", "price": 262.7},
      {"date": "2025-07-23", "price": 267.6}, {"date": "2025-07-25", "price": 269.6}, {"date": "2025-07-28", "price": 269.9},
      {"date": "2025-07-30", "price": 264.7}, {"date": "2025-08-01", "price": 251.3}, {"date": "2025-08-04", "price": 251.6},
      {"date": "2025-08-06", "price": 241}, {"date": "2025-08-08", "price": 240.2}, {"date": "2025-08-10", "price": 234},
      {"date": "2025-08-12", "price": 232}, {"date": "2025-08-14", "price": 233.3}, {"date": "2025-08-15", "price": 242.6},
      {"date": "2025-08-18", "price": 244.3}, {"date": "2025-08-19", "price": 246.4}, {"date": "2025-08-22", "price": 248.4},
      {"date": "2025-08-24", "price": 247.5}, {"date": "2025-08-26", "price": 243.8}, {"date": "2025-08-28", "price": 255.2},
      {"date": "2025-08-30", "price": 256.2}, {"date": "2025-09-01", "price": 254.9}, {"date": "2025-09-02", "price": 256.2},
      {"date": "2025-09-03", "price": 244.3}, {"date": "2025-09-05", "price": 251.6}, {"date": "2025-09-08", "price": 251.9},
      {"date": "2025-09-09", "price": 242.6}, {"date": "2025-09-13", "price": 242.6}, {"date": "2025-09-16", "price": 239.9},
      {"date": "2025-09-19", "price": 247.5}, {"date": "2025-09-21", "price": 249.7}, {"date": "2025-09-22", "price": 245.1},
      {"date": "2025-09-24", "price": 241}, {"date": "2025-09-25", "price": 245.1}, {"date": "2025-09-29", "price": 245.1},
      {"date": "2025-09-30", "price": 236.1}, {"date": "2025-10-02", "price": 237.7}, {"date": "2025-10-05", "price": 245.4},
      {"date": "2025-10-07", "price": 240.2}, {"date": "2025-10-08", "price": 244.3}, {"date": "2025-10-10", "price": 240.5},
      {"date": "2025-10-11", "price": 245.1}, {"date": "2025-10-13", "price": 248.7}, {"date": "2025-10-14", "price": 236.9},
      {"date": "2025-10-15", "price": 245.9}, {"date": "2025-10-17", "price": 242.6}, {"date": "2025-10-18", "price": 245.9},
      {"date": "2025-10-19", "price": 253.6}, {"date": "2025-10-21", "price": 263.1}, {"date": "2025-10-22", "price": 255.2},
      {"date": "2025-10-25", "price": 254.9}, {"date": "2025-10-27", "price": 255.7}, {"date": "2025-10-29", "price": 252},
      {"date": "2025-10-30", "price": 260.1}, {"date": "2025-11-03", "price": 261.1}, {"date": "2025-11-04", "price": 253.3},
      {"date": "2025-11-05", "price": 239.9}, {"date": "2025-11-08", "price": 240.5}, {"date": "2025-11-10", "price": 241.8},
      {"date": "2025-11-12", "price": 245.4}, {"date": "2025-11-13", "price": 241}, {"date": "2025-11-15", "price": 243.1},
      {"date": "2025-11-17", "price": 236.1}, {"date": "2025-11-19", "price": 226.3}, {"date": "2025-11-22", "price": 227.1},
      {"date": "2025-11-24", "price": 227.1}, {"date": "2025-11-25", "price": 233.7}, {"date": "2025-11-26", "price": 227.9},
      {"date": "2025-11-29", "price": 230.7}, {"date": "2025-12-02", "price": 232.8}, {"date": "2025-12-03", "price": 238.6},
      {"date": "2025-12-04", "price": 260.6}, {"date": "2025-12-07", "price": 260.1}, {"date": "2025-12-10", "price": 263.9},
      {"date": "2025-12-11", "price": 262.2}, {"date": "2025-12-14", "price": 255.7}, {"date": "2025-12-17", "price": 257.8},
      {"date": "2025-12-19", "price": 259}, {"date": "2025-12-21", "price": 263.9}, {"date": "2025-12-23", "price": 263.9},
      {"date": "2025-12-26", "price": 266}, {"date": "2025-12-29", "price": 266}, {"date": "2025-12-31", "price": 264.7},
      {"date": "2026-01-02", "price": 254.1}, {"date": "2026-01-05", "price": 255.7}, {"date": "2026-01-06", "price": 259.5},
      {"date": "2026-01-07", "price": 265.5}, {"date": "2026-01-08", "price": 259.8}, {"date": "2026-01-12", "price": 259},
      {"date": "2026-01-13", "price": 240.5}, {"date": "2026-01-14", "price": 238.6}, {"date": "2026-01-16", "price": 226.8},
      {"date": "2026-01-18", "price": 222.5}, {"date": "2026-01-20", "price": 220.6}, {"date": "2026-01-22", "price": 227.5},
      {"date": "2026-01-25", "price": 228.8}, {"date": "2026-01-28", "price": 227.5}, {"date": "2026-01-29", "price": 213.2},
      {"date": "2026-01-31", "price": 211.6}, {"date": "2026-02-02", "price": 210.8}, {"date": "2026-02-03", "price": 196.4},
      {"date": "2026-02-04", "price": 190.4}, {"date": "2026-02-08", "price": 193.6}, {"date": "2026-02-10", "price": 192.8},
      {"date": "2026-02-11", "price": 185.4}, {"date": "2026-02-12", "price": 189.5}, {"date": "2026-02-15", "price": 186.3},
      {"date": "2026-02-17", "price": 187.9}, {"date": "2026-02-19", "price": 184.3}, {"date": "2026-02-22", "price": 178.4},
      {"date": "2026-02-25", "price": 199.3}, {"date": "2026-02-28", "price": 193.6}, {"date": "2026-03-03", "price": 193.6},
      {"date": "2026-03-05", "price": 201.3}, {"date": "2026-03-06", "price": 201.8}, {"date": "2026-03-08", "price": 199.3},
      {"date": "2026-03-10", "price": 194.4}, {"date": "2026-03-11", "price": 198.8}, {"date": "2026-03-13", "price": 193.1},
      {"date": "2026-03-15", "price": 197.4}, {"date": "2026-03-16", "price": 197.8}, {"date": "2026-03-18", "price": 194.8},
      {"date": "2026-03-23", "price": 194.8}, {"date": "2026-03-24", "price": 183}, {"date": "2026-03-25", "price": 184.3},
      {"date": "2026-03-27", "price": 179.7}, {"date": "2026-03-30", "price": 185.4}, {"date": "2026-04-02", "price": 186.6},
      {"date": "2026-04-05", "price": 184.3}, {"date": "2026-04-07", "price": 178.9}, {"date": "2026-04-10", "price": 165.4},
      {"date": "2026-04-12", "price": 170.7}, {"date": "2026-04-14", "price": 171.5}, {"date": "2026-04-15", "price": 181.4},
      {"date": "2026-04-19", "price": 186.3}, {"date": "2026-04-21", "price": 189.5}, {"date": "2026-04-22", "price": 173.5},
      {"date": "2026-04-24", "price": 178.1}, {"date": "2026-04-27", "price": 180.6}, {"date": "2026-04-28", "price": 181},
      {"date": "2026-04-29", "price": 176.8}, {"date": "2026-04-30", "price": 183.8}, {"date": "2026-05-04", "price": 186.3},
      {"date": "2026-05-05", "price": 182.2}, {"date": "2026-05-06", "price": 185.9}, {"date": "2026-05-08", "price": 181.4},
      {"date": "2026-05-11", "price": 178.1}, {"date": "2026-05-13", "price": 165.9}, {"date": "2026-05-15", "price": 173.2},
      {"date": "2026-05-17", "price": 178.9}, {"date": "2026-05-20", "price": 179.7}, {"date": "2026-05-21", "price": 176.5},
      {"date": "2026-05-22", "price": 180.1}, {"date": "2026-05-26", "price": 179.4}, {"date": "2026-05-28", "price": 176.8},
      {"date": "2026-05-30", "price": 196.1}, {"date": "2026-06-01", "price": 209.5}, {"date": "2026-06-02", "price": 190.4},
      {"date": "2026-06-05", "price": 185.5}, {"date": "2026-06-07", "price": 182.7}, {"date": "2026-06-10", "price": 167},
      {"date": "2026-06-15", "price": 163.7}, {"date": "2026-06-17", "price": 152.8}, {"date": "2026-06-21", "price": 150.3},
      {"date": "2026-06-22", "price": 153.3}, {"date": "2026-06-24", "price": 150.3}, {"date": "2026-06-26", "price": 157.7},
      {"date": "2026-06-28", "price": 157.7}, {"date": "2026-06-30", "price": 156.8}, {"date": "2026-07-01", "price": 165.4},
      {"date": "2026-07-04", "price": 165.8}, {"date": "2026-07-06", "price": 169.1}, {"date": "2026-07-08", "price": 163.4},
      {"date": "2026-07-10", "price": 165}, {"date": "2026-07-12", "price": 170.7}, {"date": "2026-07-14", "price": 167.5},
      {"date": "2026-07-15", "price": 172.4}, {"date": "2026-07-17", "price": 171.5}, {"date": "2026-07-20", "price": 173.2},
      {"date": "2026-07-23", "price": 157.2}, {"date": "2026-07-25", "price": 166.7}, {"date": "2026-07-27", "price": 173.2},
      {"date": "2026-07-29", "price": 187.9}, {"date": "2026-07-30", "price": 185.5}, {"date": "2026-08-02", "price": 186.3},
      {"date": "2026-08-04", "price": 192}, {"date": "2026-08-05", "price": 187.1}, {"date": "2026-08-06", "price": 192.5},
      {"date": "2026-08-08", "price": 196.4}, {"date": "2026-08-10", "price": 197.8}, {"date": "2026-08-11", "price": 194.1},
      {"date": "2026-08-12", "price": 201}, {"date": "2026-08-14", "price": 195.3}, {"date": "2026-08-16", "price": 191.5},
      {"date": "2026-08-18", "price": 196.1}
    ]
  },
  "mark": {"type": "line", "color": "#000080", "strokeWidth": 3.5, "strokeJoin": "miter", "clip": true},
  "encoding": {
    "x": {
      "field": "date",
      "type": "temporal",
      "scale": {
        "type": "utc",
        "domain": [
          {"year": 2021, "month": 1, "date": 1, "utc": true},
          {"year": 2026, "month": 8, "date": 18, "utc": true}
        ]
      },
      "axis": {
        "title": null,
        "format": "%-m/%-d/%Y",
        "labelAngle": 270,
        "labelPadding": 19,
        "labelOverlap": false,
        "labelFlush": false,
        "labelLimit": 0,
        "grid": false,
        "domainColor": "#000000",
        "domainWidth": 2,
        "tickColor": "#404040",
        "tickWidth": 1.5,
        "tickSize": 14,
        "values": [
          {"year": 2021, "month": 1, "date": 1, "utc": true}, {"year": 2021, "month": 4, "date": 1, "utc": true},
          {"year": 2021, "month": 7, "date": 1, "utc": true}, {"year": 2021, "month": 10, "date": 1, "utc": true},
          {"year": 2022, "month": 1, "date": 1, "utc": true}, {"year": 2022, "month": 4, "date": 1, "utc": true},
          {"year": 2022, "month": 7, "date": 1, "utc": true}, {"year": 2022, "month": 10, "date": 1, "utc": true},
          {"year": 2023, "month": 1, "date": 1, "utc": true}, {"year": 2023, "month": 4, "date": 1, "utc": true},
          {"year": 2023, "month": 7, "date": 1, "utc": true}, {"year": 2023, "month": 10, "date": 1, "utc": true},
          {"year": 2024, "month": 1, "date": 1, "utc": true}, {"year": 2024, "month": 4, "date": 1, "utc": true},
          {"year": 2024, "month": 7, "date": 1, "utc": true}, {"year": 2024, "month": 10, "date": 1, "utc": true},
          {"year": 2025, "month": 1, "date": 1, "utc": true}, {"year": 2025, "month": 4, "date": 1, "utc": true},
          {"year": 2025, "month": 7, "date": 1, "utc": true}, {"year": 2025, "month": 10, "date": 1, "utc": true},
          {"year": 2026, "month": 1, "date": 1, "utc": true}, {"year": 2026, "month": 4, "date": 1, "utc": true},
          {"year": 2026, "month": 7, "date": 1, "utc": true}
        ]
      }
    },
    "y": {
      "field": "price",
      "type": "quantitative",
      "scale": {"domain": [0, 400], "nice": false},
      "axis": {
        "title": null,
        "format": "$,.2f",
        "values": [0, 50, 100, 150, 200, 250, 300, 350, 400],
        "labelPadding": 27,
        "grid": true,
        "gridColor": "#000000",
        "gridWidth": 1,
        "domainColor": "#000000",
        "domainWidth": 2,
        "tickColor": "#000000",
        "tickWidth": 1.5,
        "tickSize": 13
      }
    }
  }
}
